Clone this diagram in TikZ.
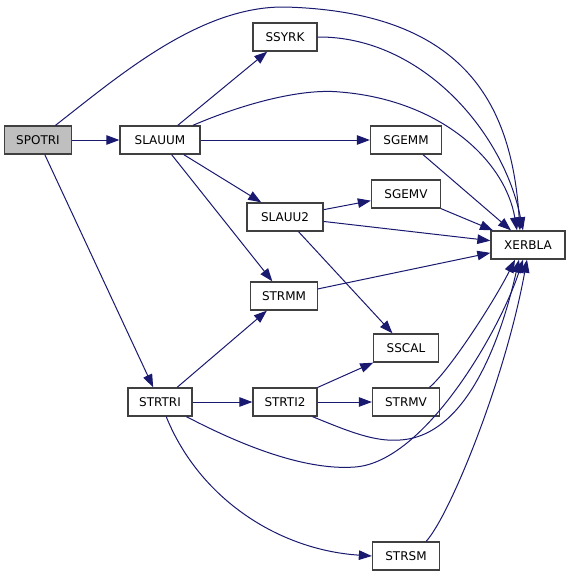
\documentclass[tikz,border=0pt]{standalone}
\usepackage{fontspec}
\setmainfont{DejaVu Sans}
\usetikzlibrary{arrows.meta}
\definecolor{edgeblue}{HTML}{191970}
\definecolor{boxgray}{HTML}{404040}
\definecolor{rootgray}{HTML}{BFBFBF}

\begin{document}
\begin{tikzpicture}[x=1pt,y=-1pt,>={Triangle[length=13pt,width=9.5pt]},
  fn/.style={draw=boxgray,line width=1.3pt,fill=white,minimum height=28pt,
    inner sep=0pt,font=\fontsize{12}{14}\selectfont},
  call/.style={->,edgeblue,line width=1pt}]
  \useasboundingbox (0,0) rectangle (571,576);

  % routines
  \node[fn,fill=rootgray,minimum width=67pt] (spotri) at (38,140) {SPOTRI};
  \node[fn,minimum width=80pt] (slauum) at (160,140) {SLAUUM};
  \node[fn,minimum width=64pt] (ssyrk) at (285,37) {SSYRK};
  \node[fn,minimum width=71pt] (sgemm) at (406,140) {SGEMM};
  \node[fn,minimum width=69pt] (sgemv) at (406,194) {SGEMV};
  \node[fn,minimum width=76pt] (slauu2) at (285,217) {SLAUU2};
  \node[fn,minimum width=74pt] (xerbla) at (528,245) {XERBLA};
  \node[fn,minimum width=67pt] (strmm) at (284,296) {STRMM};
  \node[fn,minimum width=65pt] (sscal) at (406,348) {SSCAL};
  \node[fn,minimum width=64pt] (strtri) at (160,402) {STRTRI};
  \node[fn,minimum width=64pt] (strti2) at (285,402) {STRTI2};
  \node[fn,minimum width=67pt] (strmv) at (406,402) {STRMV};
  \node[fn,minimum width=67pt] (strsm) at (406,556) {STRSM};

  % calls from SPOTRI
  \draw[call] (spotri) -- (slauum);
  \draw[call] (spotri) -- (strtri);
  \draw[call] (spotri.40) .. controls (120,75) and (200,6) .. (285,7)
    .. controls (470,12) and (512,110) .. ([xshift=-8pt]xerbla.north);

  % calls from SLAUUM
  \draw[call] (slauum) -- (ssyrk);
  \draw[call] (slauum) -- (sgemm);
  \draw[call] (slauum) -- (slauu2);
  \draw[call] (slauum) -- (strmm);
  \draw[call] (slauum.24) .. controls (240,105) and (300,88) .. (340,92)
    .. controls (440,100) and (505,160) .. ([xshift=-11pt]xerbla.north);
  \draw[call] (ssyrk.east) .. controls (420,36) and (503,130) .. ([xshift=-5pt]xerbla.north);
  \draw[call] (sgemm) -- (xerbla);

  % calls from SLAUU2
  \draw[call] (slauu2) -- (sgemv);
  \draw[call] (slauu2) -- (xerbla);
  \draw[call] (slauu2) -- (sscal);
  \draw[call] (sgemv) -- (xerbla);
  \draw[call] (strmm) -- (xerbla);

  % calls from STRTRI
  \draw[call] (strtri) -- (strmm);
  \draw[call] (strtri) -- (strti2);
  \draw[call] (strtri.-29) .. controls (260,455) and (315,470) .. (355,467)
    .. controls (425,462) and (500,330) .. ([xshift=-5pt]xerbla.south);
  \draw[call] (strtri.-67) .. controls (200,500) and (280,550) .. (strsm.west);

  % calls from STRTI2
  \draw[call] (strti2) -- (sscal);
  \draw[call] (strti2) -- (strmv);
  \draw[call] (strti2.-28) .. controls (350,432) and (375,442) .. (400,440)
    .. controls (470,436) and (503,330) .. ([xshift=-9pt]xerbla.south);
  \draw[call] (strmv.32) .. controls (450,370) and (495,300) .. ([xshift=-13pt]xerbla.south);
  \draw[call] (strsm.36) .. controls (450,515) and (505,380) .. ([xshift=-1pt]xerbla.south);
\end{tikzpicture}
\end{document}
